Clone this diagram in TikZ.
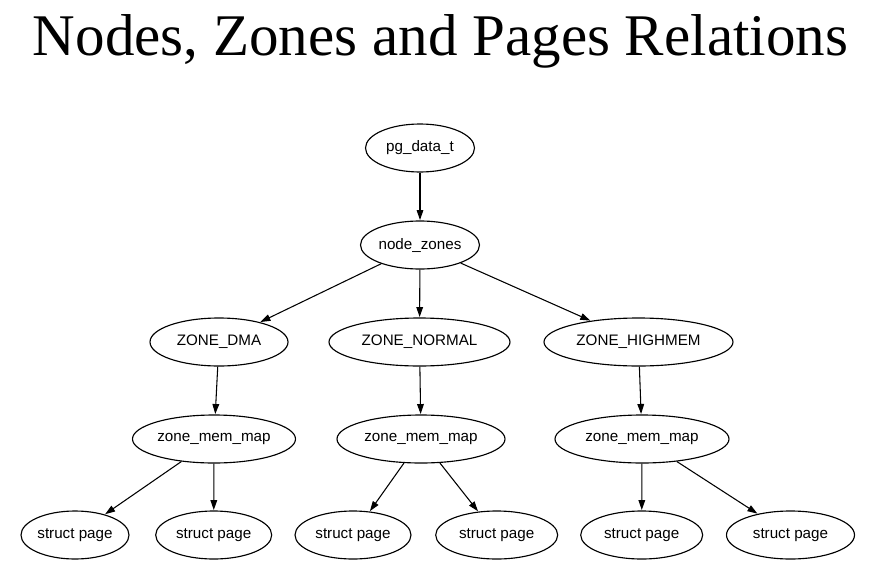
\documentclass[tikz,border=0pt]{standalone}
\usepackage{fontspec}
\setmainfont{Liberation Serif}
\newfontfamily\lblfont{Liberation Sans}
\usetikzlibrary{shapes.geometric,arrows.meta}
\tikzset{
  ell/.style={draw, ellipse, line width=0.85pt, inner sep=0pt, minimum height=36pt, font=\lblfont\fontsize{11.4}{13}\selectfont},
  edge/.style={draw, line width=0.8pt, -{Triangle[length=7.5pt,width=5pt]}, shorten >=0.3pt},
}
\begin{document}
\begin{tikzpicture}[x=0.75pt,y=-0.75pt]
\useasboundingbox (0,0) rectangle (871,575);
\node[anchor=base, inner sep=0pt] (title) at (440.5,55)
  {\resizebox{611.25pt}{!}{\fontsize{42}{50}\selectfont Nodes, Zones and Pages Relations}};
\node[ell, minimum width=81.75pt] (pg) at (420,148) {pg\_data\_t};
\node[ell, minimum width=89.25pt] (nz) at (420,245) {node\_zones};
\node[ell, minimum width=103.5pt] (dma) at (219,342) {ZONE\_DMA};
\node[ell, minimum width=135.75pt] (normal) at (419.5,342) {ZONE\_NORMAL};
\node[ell, minimum width=141.75pt] (high) at (638.5,342) {ZONE\_HIGHMEM};
\node[ell, minimum width=122.25pt] (zmm1) at (214,439) {zone\_mem\_map};
\node[ell, minimum width=126pt] (zmm2) at (421,439) {zone\_mem\_map};
\node[ell, minimum width=130.5pt] (zmm3) at (642,439) {zone\_mem\_map};
\node[ell, minimum width=81pt] (sp1) at (75,535) {struct page};
\node[ell, minimum width=87pt] (sp2) at (213.7,535) {struct page};
\node[ell, minimum width=87pt] (sp3) at (353,535) {struct page};
\node[ell, minimum width=91.5pt] (sp4) at (496.7,535) {struct page};
\node[ell, minimum width=91.5pt] (sp5) at (641.7,535) {struct page};
\node[ell, minimum width=96pt] (sp6) at (790.5,535) {struct page};
\path[edge] (pg) -- (nz);
\path[edge] (nz) -- (dma);
\path[edge] (nz) -- (normal);
\path[edge] (nz) -- (high);
\path[edge] (dma) -- (zmm1);
\path[edge] (normal) -- (zmm2);
\path[edge] (high) -- (zmm3);
\path[edge] (zmm1) -- (sp1);
\path[edge] (zmm1) -- (sp2);
\path[edge] (zmm2) -- (sp3);
\path[edge] (zmm2) -- (sp4);
\path[edge] (zmm3) -- (sp5);
\path[edge] (zmm3) -- (sp6);
\end{tikzpicture}
\end{document}
